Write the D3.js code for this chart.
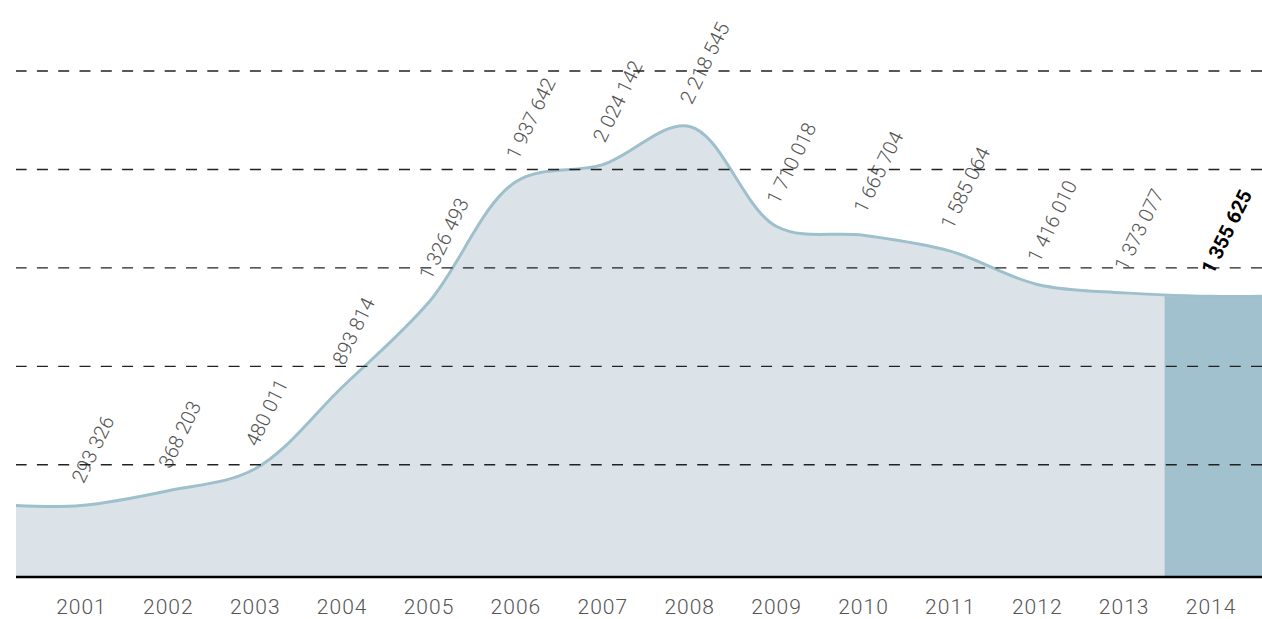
<!DOCTYPE html>
<html>
<head>
<meta charset="utf-8">
<script src="https://cdn.jsdelivr.net/npm/d3@7"></script>
<style>
  body { margin: 0; background: #fff; }
  svg { display: block; }
  text { font-family: "Helvetica Neue", Roboto, sans-serif; font-weight: 300; }
</style>
</head>
<body>
<script>
var years = [2001, 2002, 2003, 2004, 2005, 2006, 2007, 2008, 2009, 2010, 2011, 2012, 2013, 2014];
var values = [293326, 368203, 480011, 893814, 1326493, 1937642, 2024142, 2218545, 1710018, 1665704, 1585064, 1416010, 1373077, 1355625];
var valueLabels = ["293 326", "368 203", "480 011", "893 814", "1 326 493", "1 937 642", "2 024 142", "2 218 545", "1 710 018", "1 665 704", "1 585 064", "1 416 010", "1 373 077", "1 355 625"];
var gridValues = [500000, 1000000, 1500000, 2000000, 2500000];

var width = 1262, height = 619;
var left = 16, right = 1262, bottom = 577;

var svg = d3.select("body")
    .append("svg")
    .attr("width", width)
    .attr("height", height);

var x = d3.scaleBand()
    .domain(years)
    .range([38, 1254.5]);

var y = d3.scaleLinear()
    .domain([-70000, 2500000])
    .range([bottom, 71]);

function cx(yr) { return x(yr) + x.bandwidth() / 2; }

// curve points, stretched flat to both edges of the plot
var pts = years.map(function(d, i) { return {px: cx(d), v: values[i]}; });
pts.unshift({px: left, v: values[0]});
pts.push({px: right, v: values[values.length - 1]});

var curve = d3.curveCatmullRom.alpha(0.5);

var area = d3.area()
    .x(d => d.px)
    .y0(bottom)
    .y1(d => y(d.v))
    .curve(curve);

var line = d3.line()
    .x(d => d.px)
    .y(d => y(d.v))
    .curve(curve);

svg.append("path")
    .datum(pts)
    .attr("d", area)
    .style("fill", "#dbe3e9");

// highlighted last year
var last = years[years.length - 1];
svg.append("rect")
    .attr("x", x(last) - 3)
    .attr("y", y(values[values.length - 1]))
    .attr("width", right - x(last) + 3)
    .attr("height", bottom - y(values[values.length - 1]))
    .style("fill", "#a0c1cd");

svg.append("path")
    .datum(pts)
    .attr("d", line)
    .style("fill", "none")
    .style("stroke", "#9ec0cc")
    .style("stroke-width", 3);

// value labels
svg.selectAll(".vlabel")
    .data(years)
    .join("text")
    .attr("class", "vlabel")
    .attr("transform", function(d, i) { return "translate(" + (cx(d) + 2) + "," + (y(values[i]) - 21) + ") rotate(-64)"; })
    .attr("text-anchor", "start")
    .style("font-size", "20px")
    .style("fill", (d, i) => i == years.length - 1 ? "#000" : "#555")
    .style("font-weight", (d, i) => i == years.length - 1 ? 700 : 300)
    .text((d, i) => valueLabels[i]);

// dashed grid on top
svg.selectAll(".grid")
    .data(gridValues)
    .join("line")
    .attr("class", "grid")
    .attr("x1", right)
    .attr("x2", left)
    .attr("y1", d => y(d))
    .attr("y2", d => y(d))
    .style("stroke", "#222")
    .style("stroke-width", 1.4)
    .style("stroke-dasharray", "11,10.3");

// x axis
var xAxis = svg.append("g")
    .attr("transform", "translate(0," + bottom + ")")
    .call(d3.axisBottom(x).tickSize(0).tickPadding(22));
xAxis.select(".domain").remove();
xAxis.selectAll("text")
    .style("font-size", "21px")
    .style("letter-spacing", "1px")
    .style("fill", "#555")
    .style("font-family", "\"Helvetica Neue\", Roboto, sans-serif");

svg.append("line")
    .attr("x1", left)
    .attr("x2", right)
    .attr("y1", bottom)
    .attr("y2", bottom)
    .style("stroke", "#000")
    .style("stroke-width", 2.5);
</script>
</body>
</html>
